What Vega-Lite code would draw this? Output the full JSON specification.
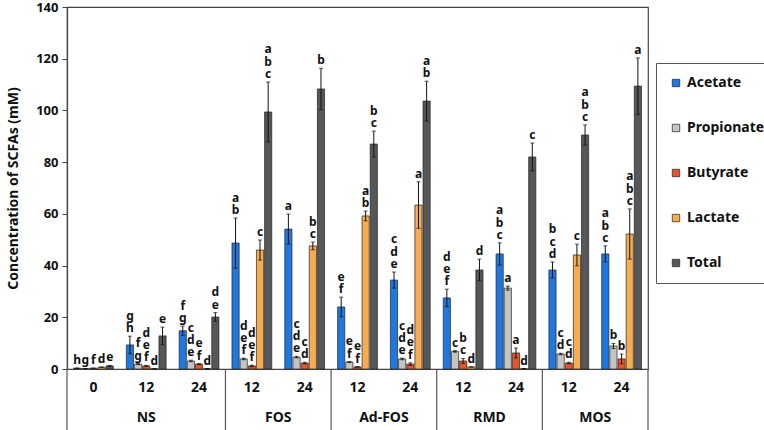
{
  "$schema": "https://vega.github.io/schema/vega-lite/v6.json",
  "width": 581,
  "height": 362,
  "autosize": {"type": "none"},
  "padding": {"left": 67, "top": 7, "right": 116, "bottom": 61},
  "config": {
    "font": "Noto Sans",
    "view": {"stroke": "#444", "strokeWidth": 1.2},
    "axis": {"grid": false}
  },
  "datasets": {
    "bars": [
      {"group": "NS", "time": "0", "sample": "NS|0", "acid": "Acetate", "value": 0.3, "err": 0, "sig": "h"},
      {"group": "NS", "time": "0", "sample": "NS|0", "acid": "Propionate", "value": 0.2, "err": 0, "sig": "g"},
      {"group": "NS", "time": "0", "sample": "NS|0", "acid": "Butyrate", "value": 0.3, "err": 0, "sig": "f"},
      {"group": "NS", "time": "0", "sample": "NS|0", "acid": "Lactate", "value": 0.7, "err": 0, "sig": "d"},
      {"group": "NS", "time": "0", "sample": "NS|0", "acid": "Total", "value": 1.2, "err": 0.2, "sig": "e"},
      {"group": "NS", "time": "12", "sample": "NS|12", "acid": "Acetate", "value": 9.3, "err": 3.4, "sig": "g h"},
      {"group": "NS", "time": "12", "sample": "NS|12", "acid": "Propionate", "value": 1.9, "err": 0.2, "sig": "f g"},
      {"group": "NS", "time": "12", "sample": "NS|12", "acid": "Butyrate", "value": 1.2, "err": 0.2, "sig": "d e f"},
      {"group": "NS", "time": "12", "sample": "NS|12", "acid": "Lactate", "value": 0.1, "err": 0, "sig": "d"},
      {"group": "NS", "time": "12", "sample": "NS|12", "acid": "Total", "value": 12.8, "err": 3.4, "sig": "e"},
      {"group": "NS", "time": "24", "sample": "NS|24", "acid": "Acetate", "value": 14.8, "err": 1.8, "sig": "f g"},
      {"group": "NS", "time": "24", "sample": "NS|24", "acid": "Propionate", "value": 3.1, "err": 0.3, "sig": "c d e"},
      {"group": "NS", "time": "24", "sample": "NS|24", "acid": "Butyrate", "value": 1.9, "err": 0.2, "sig": "e f"},
      {"group": "NS", "time": "24", "sample": "NS|24", "acid": "Lactate", "value": 0.1, "err": 0, "sig": "d"},
      {"group": "NS", "time": "24", "sample": "NS|24", "acid": "Total", "value": 20.1, "err": 1.7, "sig": "d e"},
      {"group": "FOS", "time": "12", "sample": "FOS|12", "acid": "Acetate", "value": 48.7, "err": 9.7, "sig": "a b"},
      {"group": "FOS", "time": "12", "sample": "FOS|12", "acid": "Propionate", "value": 3.9, "err": 0.3, "sig": "d e f"},
      {"group": "FOS", "time": "12", "sample": "FOS|12", "acid": "Butyrate", "value": 1.2, "err": 0.3, "sig": "d e f"},
      {"group": "FOS", "time": "12", "sample": "FOS|12", "acid": "Lactate", "value": 46.0, "err": 3.9, "sig": "c"},
      {"group": "FOS", "time": "12", "sample": "FOS|12", "acid": "Total", "value": 99.4, "err": 11.6, "sig": "a b c"},
      {"group": "FOS", "time": "24", "sample": "FOS|24", "acid": "Acetate", "value": 54.1, "err": 5.8, "sig": "a"},
      {"group": "FOS", "time": "24", "sample": "FOS|24", "acid": "Propionate", "value": 4.6, "err": 0.3, "sig": "c d e"},
      {"group": "FOS", "time": "24", "sample": "FOS|24", "acid": "Butyrate", "value": 2.3, "err": 0.3, "sig": "c d"},
      {"group": "FOS", "time": "24", "sample": "FOS|24", "acid": "Lactate", "value": 47.6, "err": 1.5, "sig": "b c"},
      {"group": "FOS", "time": "24", "sample": "FOS|24", "acid": "Total", "value": 108.3, "err": 8.0, "sig": "b"},
      {"group": "Ad-FOS", "time": "12", "sample": "Ad-FOS|12", "acid": "Acetate", "value": 24.0, "err": 3.8, "sig": "e f"},
      {"group": "Ad-FOS", "time": "12", "sample": "Ad-FOS|12", "acid": "Propionate", "value": 2.7, "err": 0.2, "sig": "e f"},
      {"group": "Ad-FOS", "time": "12", "sample": "Ad-FOS|12", "acid": "Butyrate", "value": 0.8, "err": 0.1, "sig": "e f"},
      {"group": "Ad-FOS", "time": "12", "sample": "Ad-FOS|12", "acid": "Lactate", "value": 59.2, "err": 1.9, "sig": "a b"},
      {"group": "Ad-FOS", "time": "12", "sample": "Ad-FOS|12", "acid": "Total", "value": 87.0, "err": 5.0, "sig": "b c"},
      {"group": "Ad-FOS", "time": "24", "sample": "Ad-FOS|24", "acid": "Acetate", "value": 34.4, "err": 3.1, "sig": "c d e"},
      {"group": "Ad-FOS", "time": "24", "sample": "Ad-FOS|24", "acid": "Propionate", "value": 3.9, "err": 0.3, "sig": "c d e"},
      {"group": "Ad-FOS", "time": "24", "sample": "Ad-FOS|24", "acid": "Butyrate", "value": 1.9, "err": 0.5, "sig": "d e f"},
      {"group": "Ad-FOS", "time": "24", "sample": "Ad-FOS|24", "acid": "Lactate", "value": 63.4, "err": 9.0, "sig": "a"},
      {"group": "Ad-FOS", "time": "24", "sample": "Ad-FOS|24", "acid": "Total", "value": 103.6, "err": 7.7, "sig": "a b"},
      {"group": "RMD", "time": "12", "sample": "RMD|12", "acid": "Acetate", "value": 27.5, "err": 3.4, "sig": "d e f"},
      {"group": "RMD", "time": "12", "sample": "RMD|12", "acid": "Propionate", "value": 6.8, "err": 0.3, "sig": "c"},
      {"group": "RMD", "time": "12", "sample": "RMD|12", "acid": "Butyrate", "value": 3.1, "err": 1.0, "sig": "b c"},
      {"group": "RMD", "time": "12", "sample": "RMD|12", "acid": "Lactate", "value": 0.8, "err": 0, "sig": "d"},
      {"group": "RMD", "time": "12", "sample": "RMD|12", "acid": "Total", "value": 38.3, "err": 4.2, "sig": "d"},
      {"group": "RMD", "time": "24", "sample": "RMD|24", "acid": "Acetate", "value": 44.5, "err": 4.3, "sig": "a b c"},
      {"group": "RMD", "time": "24", "sample": "RMD|24", "acid": "Propionate", "value": 31.3, "err": 0.8, "sig": "a"},
      {"group": "RMD", "time": "24", "sample": "RMD|24", "acid": "Butyrate", "value": 6.2, "err": 1.9, "sig": "a"},
      {"group": "RMD", "time": "24", "sample": "RMD|24", "acid": "Lactate", "value": 0.1, "err": 0, "sig": "d"},
      {"group": "RMD", "time": "24", "sample": "RMD|24", "acid": "Total", "value": 82.0, "err": 5.4, "sig": "c"},
      {"group": "MOS", "time": "12", "sample": "MOS|12", "acid": "Acetate", "value": 38.3, "err": 3.1, "sig": "b c d"},
      {"group": "MOS", "time": "12", "sample": "MOS|12", "acid": "Propionate", "value": 5.8, "err": 0.3, "sig": "c d"},
      {"group": "MOS", "time": "12", "sample": "MOS|12", "acid": "Butyrate", "value": 2.3, "err": 0.3, "sig": "c d"},
      {"group": "MOS", "time": "12", "sample": "MOS|12", "acid": "Lactate", "value": 44.1, "err": 4.2, "sig": "c"},
      {"group": "MOS", "time": "12", "sample": "MOS|12", "acid": "Total", "value": 90.5, "err": 3.9, "sig": "a b c"},
      {"group": "MOS", "time": "24", "sample": "MOS|24", "acid": "Acetate", "value": 44.5, "err": 3.1, "sig": "a b c"},
      {"group": "MOS", "time": "24", "sample": "MOS|24", "acid": "Propionate", "value": 8.9, "err": 1.0, "sig": "b"},
      {"group": "MOS", "time": "24", "sample": "MOS|24", "acid": "Butyrate", "value": 3.9, "err": 1.9, "sig": "b"},
      {"group": "MOS", "time": "24", "sample": "MOS|24", "acid": "Lactate", "value": 52.2, "err": 9.7, "sig": "a b c"},
      {"group": "MOS", "time": "24", "sample": "MOS|24", "acid": "Total", "value": 109.4, "err": 10.9, "sig": "a"}
    ],
    "seps": [
      {"sample": "NS|0"},
      {"sample": "FOS|12"},
      {"sample": "Ad-FOS|12"},
      {"sample": "RMD|12"},
      {"sample": "MOS|12"}
    ],
    "lastsep": [{"sample": "MOS|24"}],
    "groups3": [{"sample": "NS|12", "group": "NS"}],
    "groups2": [
      {"sample": "FOS|24", "group": "FOS"},
      {"sample": "Ad-FOS|24", "group": "Ad-FOS"},
      {"sample": "RMD|24", "group": "RMD"},
      {"sample": "MOS|24", "group": "MOS"}
    ]
  },
  "encoding": {
    "x": {
      "field": "sample",
      "type": "nominal",
      "sort": ["NS|0", "NS|12", "NS|24", "FOS|12", "FOS|24", "Ad-FOS|12", "Ad-FOS|24", "RMD|12", "RMD|24", "MOS|12", "MOS|24"],
      "scale": {
        "domain": ["NS|0", "NS|12", "NS|24", "FOS|12", "FOS|24", "Ad-FOS|12", "Ad-FOS|24", "RMD|12", "RMD|24", "MOS|12", "MOS|24"],
        "paddingInner": 0,
        "paddingOuter": 0
      },
      "axis": {
        "title": null,
        "labelExpr": "split(datum.label, '|')[1]",
        "labelAngle": 0,
        "labelFontSize": 14,
        "labelFontWeight": "bold",
        "labelColor": "#111",
        "labelPadding": 11,
        "ticks": false,
        "domain": false
      }
    }
  },
  "layer": [
    {
      "data": {"name": "bars"},
      "mark": {"type": "bar", "stroke": "#222", "strokeWidth": 0.7},
      "encoding": {
        "xOffset": {
          "field": "acid",
          "type": "nominal",
          "sort": ["Acetate", "Propionate", "Butyrate", "Lactate", "Total"],
          "scale": {"paddingInner": 0.12, "paddingOuter": 0.8}
        },
        "y": {
          "field": "value",
          "type": "quantitative",
          "scale": {"domain": [0, 140], "nice": false},
          "axis": {
            "values": [0, 20, 40, 60, 80, 100, 120, 140],
            "title": "Concentration of SCFAs (mM)",
            "titleFontSize": 14,
            "titleFontWeight": "bold",
            "titleColor": "#111",
            "titlePadding": 15,
            "labelFontSize": 13,
            "labelFontWeight": "bold",
            "labelColor": "#111",
            "labelPadding": 4,
            "tickSize": 5,
            "tickColor": "#444",
            "domainColor": "#444",
            "domainWidth": 1.2
          }
        },
        "color": {
          "field": "acid",
          "type": "nominal",
          "sort": ["Acetate", "Propionate", "Butyrate", "Lactate", "Total"],
          "scale": {
            "domain": ["Acetate", "Propionate", "Butyrate", "Lactate", "Total"],
            "range": ["#1f78e0", "#c4c4c4", "#e8542c", "#f7ac4f", "#575757"]
          },
          "legend": {
            "title": null,
            "orient": "none",
            "legendX": 589,
            "legendY": 56,
            "direction": "vertical",
            "symbolType": "square",
            "symbolSize": 55,
            "symbolStrokeColor": "#222",
            "symbolStrokeWidth": 0.7,
            "labelFontSize": 14,
            "labelFontWeight": "bold",
            "labelColor": "#111",
            "labelOffset": 4,
            "rowPadding": 31,
            "padding": 13,
            "strokeColor": "#555"
          }
        }
      }
    },
    {
      "data": {"name": "bars"},
      "transform": [
        {"calculate": "datum.value - datum.err", "as": "lo"},
        {"calculate": "datum.value + datum.err", "as": "hi"},
        {"calculate": "split(datum.sig, ' ')", "as": "parts"},
        {"calculate": "datum.parts[length(datum.parts) - 1]", "as": "l0"},
        {"calculate": "length(datum.parts) >= 2 ? datum.parts[length(datum.parts) - 2] : ''", "as": "l1"},
        {"calculate": "length(datum.parts) >= 3 ? datum.parts[length(datum.parts) - 3] : ''", "as": "l2"}
      ],
      "encoding": {
        "xOffset": {"field": "acid", "type": "nominal", "sort": ["Acetate", "Propionate", "Butyrate", "Lactate", "Total"], "scale": {"paddingInner": 0.12, "paddingOuter": 0.8}}
      },
      "layer": [
        {
          "mark": {"type": "rule", "color": "#111", "strokeWidth": 1},
          "encoding": {
            "y": {"field": "lo", "type": "quantitative"},
            "y2": {"field": "hi"}
          }
        },
        {
          "mark": {"type": "tick", "color": "#111", "size": 4, "thickness": 1, "orient": "horizontal"},
          "encoding": {
            "y": {"field": "hi", "type": "quantitative"}
          }
        },
        {
          "mark": {"type": "tick", "color": "#111", "size": 4, "thickness": 1, "orient": "horizontal"},
          "encoding": {
            "y": {"field": "lo", "type": "quantitative"}
          }
        },
        {
          "mark": {"type": "text", "baseline": "bottom", "align": "center", "dy": -1, "fontSize": 12, "fontWeight": "bold", "color": "#111"},
          "encoding": {
            "y": {"field": "hi", "type": "quantitative"},
            "text": {"field": "l0"}
          }
        },
        {
          "transform": [{"filter": "datum.l1 != ''"}],
          "mark": {"type": "text", "baseline": "bottom", "align": "center", "dy": -13.3, "fontSize": 12, "fontWeight": "bold", "color": "#111"},
          "encoding": {
            "y": {"field": "hi", "type": "quantitative"},
            "text": {"field": "l1"}
          }
        },
        {
          "transform": [{"filter": "datum.l2 != ''"}],
          "mark": {"type": "text", "baseline": "bottom", "align": "center", "dy": -25.6, "fontSize": 12, "fontWeight": "bold", "color": "#111"},
          "encoding": {
            "y": {"field": "hi", "type": "quantitative"},
            "text": {"field": "l2"}
          }
        }
      ]
    },
    {
      "data": {"name": "seps"},
      "mark": {"type": "rule", "color": "#555", "strokeWidth": 1.2},
      "encoding": {
        "x": {"field": "sample", "type": "nominal", "bandPosition": 0},
        "y": {"datum": 0},
        "y2": {"datum": -24}
      }
    },
    {
      "data": {"name": "lastsep"},
      "mark": {"type": "rule", "color": "#555", "strokeWidth": 1.2},
      "encoding": {
        "x": {"field": "sample", "type": "nominal", "bandPosition": 1},
        "y": {"datum": 0},
        "y2": {"datum": -24}
      }
    },
    {
      "data": {"name": "groups3"},
      "mark": {"type": "text", "fontSize": 14, "fontWeight": "bold", "color": "#111", "baseline": "middle"},
      "encoding": {
        "x": {"field": "sample", "type": "nominal", "bandPosition": 0.5},
        "y": {"datum": -18.9},
        "text": {"field": "group"}
      }
    },
    {
      "data": {"name": "groups2"},
      "mark": {"type": "text", "fontSize": 14, "fontWeight": "bold", "color": "#111", "baseline": "middle"},
      "encoding": {
        "x": {"field": "sample", "type": "nominal", "bandPosition": 0},
        "y": {"datum": -18.9},
        "text": {"field": "group"}
      }
    }
  ]
}
